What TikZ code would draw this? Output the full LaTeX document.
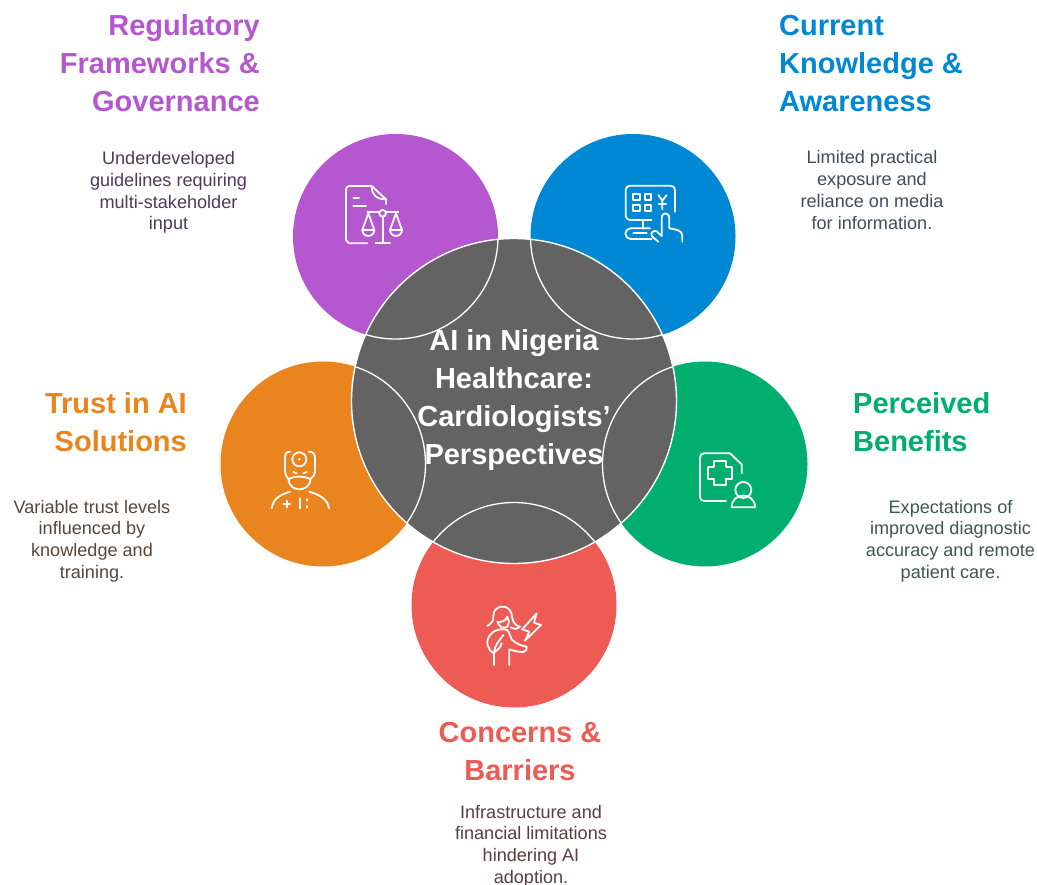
\documentclass[tikz,border=0pt]{standalone}
\usepackage{fontspec}
\setmainfont{Liberation Sans}
\definecolor{cpur}{HTML}{B558CF}
\definecolor{cblu}{HTML}{0088D4}
\definecolor{cora}{HTML}{EA841F}
\definecolor{cgre}{HTML}{00AF6F}
\definecolor{cred}{HTML}{EE5B54}
\definecolor{cgry}{HTML}{636363}
\definecolor{dpur}{HTML}{4F3A57}
\definecolor{dblu}{HTML}{3F4F5C}
\definecolor{dora}{HTML}{55473C}
\definecolor{dgre}{HTML}{3F5750}
\definecolor{dred}{HTML}{573F3F}
\tikzset{
  petal/.style={circle,minimum size=205pt,inner sep=0pt,draw=none},
  headr/.style={font=\fontsize{29}{38}\selectfont\bfseries,inner sep=0pt},
  descr/.style={font=\fontsize{18.1}{21.7}\selectfont,inner sep=0pt,align=center},
  iconline/.style={draw=white,line width=1.8pt,line cap=round,line join=round,fill=none},
  icon/.style={x=0.3333pt,y=-0.3333pt},
}
\begin{document}
\begin{tikzpicture}[x=1pt,y=-1pt]
\useasboundingbox (0,0) rectangle (1037,885);
\fill[white] (0,0) rectangle (1037,885);
% petals
\node[petal,fill=cpur] (pur) at (395.5,236.5) {};
\node[petal,fill=cblu] (blu) at (633,236.5) {};
\node[petal,fill=cora] (ora) at (323,464) {};
\node[petal,fill=cgre] (gre) at (705,464) {};
\node[petal,fill=cred] (red) at (514,605) {};
% centre
\node[circle,minimum size=325pt,inner sep=0pt,fill=cgry,draw=white,line width=1.4pt] (hub) at (514,401) {};
\begin{scope}
\clip (hub.center) circle [radius=162.5];
\foreach \n in {pur,blu,ora,gre,red}{
  \draw[white,line width=1.3pt] (\n.center) circle [radius=102.5];
}
\end{scope}
\node[font=\fontsize{29}{38}\selectfont\bfseries,text=white,align=center,inner sep=0pt] (title) at (514,400) {AI in Nigeria\\Healthcare:\\Cardiologists’\\Perspectives};
% headings
\node[headr,text=cpur,align=right,anchor=east] (h1) at (260,63) {Regulatory\\Frameworks \&\\Governance};
\node[headr,text=cblu,align=left,anchor=west] (h2) at (779,64) {Current\\Knowledge \&\\Awareness};
\node[headr,text=cora,align=right,anchor=east] (h3) at (187,422) {Trust in AI\\Solutions};
\node[headr,text=cgre,align=left,anchor=west] (h4) at (853,422) {Perceived\\Benefits};
\node[headr,text=cred,align=center] (h5) at (520,752) {Concerns \&\\Barriers};
% descriptions
\node[descr,text=dpur] (d1) at (168.5,192.5) {Underdeveloped\\guidelines requiring\\multi-stakeholder\\input};
\node[descr,text=dblu] (d2) at (872,190) {Limited practical\\exposure and\\reliance on media\\for information.};
\node[descr,text=dora] (d3) at (92,541) {Variable trust levels\\influenced by\\knowledge and\\training.};
\node[descr,text=dgre] (d4) at (950.5,541) {Expectations of\\improved diagnostic\\accuracy and remote\\patient care.};
\node[descr,text=dred] (d5) at (531,846) {Infrastructure and\\financial limitations\\hindering AI\\adoption.};
% purple icon
\begin{scope}[shift={(280,130)},icon]
\draw[iconline] (262,340) -- (208,340) to[out=180,in=90] (198,330) -- (198,178) to[out=90,in=180] (208,168) -- (275,168) -- (318,208) -- (318,222);
\draw[iconline] (275,168) .. controls (275,195) and (290,208) .. (318,208);
\draw[iconline] (220,203) -- (237,203) (220,227) -- (258,227);
\draw[iconline] (308,250) circle [radius=10];
\draw[iconline] (262,247) -- (298,247) (318,247) -- (355,247);
\draw[iconline] (308,260) -- (308,340) (287,340) -- (330,340);
\foreach \c in {265,348}{
  \draw[iconline] (\c,250) -- (\c-18,300) -- (\c+18,300) -- cycle;
  \draw[iconline] (\c-18,300) arc[start angle=180,end angle=0,radius=18];
}
\end{scope}
% blue icon
\begin{scope}[shift={(610,170)},icon]
\draw[iconline] (125,150) -- (60,150) to[out=180,in=-90] (47,137) -- (47,60) to[out=90,in=180] (60,47) -- (182,47) to[out=0,in=90] (195,60) -- (195,125);
\draw[iconline] (100,150) -- (100,175);
\draw[iconline] (120,175) -- (62,175) arc[start angle=270,end angle=90,radius=16] -- (125,207);
\draw[iconline] (70,190) -- (110,190);
\foreach \a/\b in {70/72,105/72,70/105,105/105}{
  \draw[iconline] (\a,\b) rectangle (\a+19,\b+18);
}
\draw[iconline] (145,75) -- (157,92) -- (170,75) (157,92) -- (157,118) (146,102) -- (168,102);
\draw[iconline] (217,215) -- (217,197) .. controls (217,180) and (195,178) .. (178,175) -- (178,145) .. controls (178,125) and (155,125) .. (155,145) -- (155,198) -- (140,184) .. controls (130,178) and (118,192) .. (127,200) -- (145,215);
\end{scope}
% orange icon
\begin{scope}[shift={(250,430)},icon]
\draw[iconline] (148,88) circle [radius=21];
\fill[white] (148,88) circle [radius=4];
\draw[iconline] (120,65) .. controls (108,65) and (105,72) .. (105,85) -- (105,125) .. controls (105,135) and (110,140) .. (115,146);
\draw[iconline] (176,65) .. controls (190,65) and (195,72) .. (195,85) -- (195,125) .. controls (195,135) and (190,140) .. (182,146);
\draw[iconline] (115,148) .. controls (135,137) and (162,137) .. (182,148) .. controls (180,168) and (165,178) .. (148,178) .. controls (132,178) and (117,168) .. (115,148) -- cycle;
\draw[iconline] (130,126) -- (140,130) (170,126) -- (160,130);
\draw[iconline] (120,185) .. controls (90,195) and (70,205) .. (65,235);
\draw[iconline] (178,185) .. controls (208,195) and (232,205) .. (237,235);
\draw[iconline] (100,222) -- (120,222) (110,212) -- (110,232);
\draw[iconline] (150,205) -- (150,235) (170,207) -- (170,212) (170,228) -- (170,233);
\end{scope}
% green icon
\begin{scope}[shift={(680,430)},icon]
\draw[iconline] (138,213) -- (72,213) to[out=180,in=-90] (60,201) -- (60,82) to[out=90,in=180] (72,70) -- (150,70) -- (185,103) -- (185,130);
\draw[iconline] (102,92) -- (138,92) -- (138,112) -- (157,112) -- (157,148) -- (138,148) -- (138,165) -- (102,165) -- (102,148) -- (85,148) -- (85,112) -- (102,112) -- cycle;
\draw[iconline] (190,180) circle [radius=24];
\draw[iconline] (155,232) .. controls (155,185) and (225,185) .. (225,232) -- cycle;
\end{scope}
% red icon
\begin{scope}[shift={(470,590)},icon]
\draw[iconline] (200,70) -- (157,118) -- (178,125) -- (165,152) -- (213,105) -- (192,98) -- cycle;
\draw[iconline] (52,108) .. controls (62,100) and (72,95) .. (70,78) .. controls (70,58) and (85,50) .. (97,50) .. controls (118,50) and (125,65) .. (127,85) .. controls (130,100) and (140,108) .. (150,110) .. controls (142,118) and (132,118) .. (122,112);
\draw[iconline] (82,95) .. controls (95,98) and (108,92) .. (112,80) .. controls (118,92) and (118,102) .. (112,110) .. controls (100,118) and (88,112) .. (82,95);
\draw[iconline] (72,225) -- (72,190) .. controls (52,180) and (45,155) .. (60,135) .. controls (72,118) and (95,115) .. (112,120) .. controls (118,128) and (120,135) .. (125,148) .. controls (135,160) and (155,168) .. (170,170) .. controls (172,178) and (168,185) .. (160,186) .. controls (145,186) and (130,182) .. (118,178) -- (118,225);
\draw[iconline] (72,190) .. controls (72,170) and (85,155) .. (100,135) (75,185) .. controls (85,180) and (92,170) .. (95,160);
\end{scope}
\end{tikzpicture}
\end{document}
